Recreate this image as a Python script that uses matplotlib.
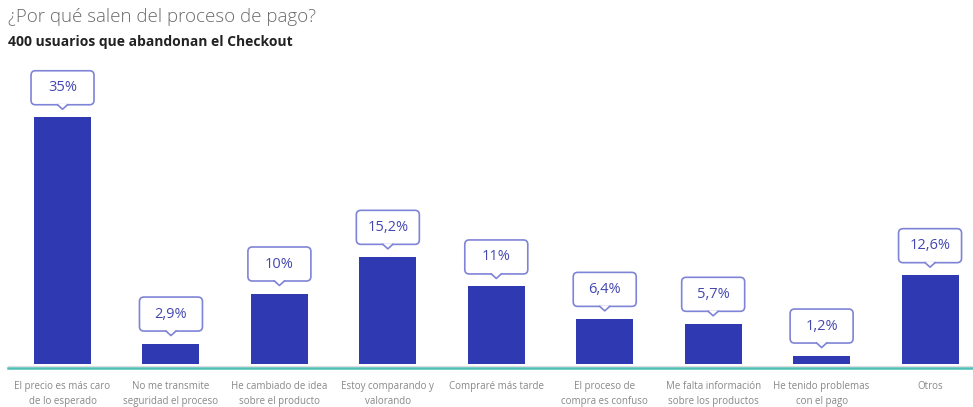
"""Bar chart: reasons for leaving the checkout."""
import matplotlib
matplotlib.use("Agg")
import matplotlib.pyplot as plt
import matplotlib.transforms as mtransforms
from matplotlib.patches import FancyBboxPatch, Polygon
from matplotlib.lines import Line2D

plt.rcParams['font.family'] = ['Open Sans', 'DejaVu Sans']

TITLE = "¿Por qué salen del proceso de pago?"
SUBTITLE = "400 usuarios que abandonan el Checkout"
CATEGORIES = [
    "El precio es más caro\nde lo esperado",
    "No me transmite\nseguridad el proceso",
    "He cambiado de idea\nsobre el producto",
    "Estoy comparando y\nvalorando",
    "Compraré más tarde",
    "El proceso de\ncompra es confuso",
    "Me falta información\nsobre los productos",
    "He tenido problemas\ncon el pago",
    "Otros",
]
VALUES = [35, 2.9, 10, 15.2, 11, 6.4, 5.7, 1.2, 12.6]
LABELS = ["35%", "2,9%", "10%", "15,2%", "11%", "6,4%", "5,7%", "1,2%", "12,6%"]

BAR_COLOR = "#2f3ab2"
BOX_EDGE = "#7f84d6"
BOX_TEXT = "#4347b0"
TEAL = "#4dbfb5"

W, H = 973, 407
fig = plt.figure(figsize=(W / 100, H / 100), dpi=100)
ax = fig.add_axes([8.3 / W, 43 / H, 964.7 / W, 300 / H])

x = list(range(len(VALUES)))
ax.bar(x, VALUES, width=0.525, color=BAR_COLOR, zorder=2)
ax.set_xlim(-0.5, 8.396)
ax.set_ylim(0, 300 / 7.05)

ax.axhline(-0.25, color="#dddddd", lw=0.8, clip_on=False, zorder=1)
ax.axhline(-0.55, color=TEAL, lw=1.8, clip_on=False, zorder=1)

for s in ax.spines.values():
    s.set_visible(False)
ax.set_yticks([])
ax.set_xticks(x)
ax.set_xticklabels(CATEGORIES, fontsize=7, color="#888888", linespacing=1.55)
ax.tick_params(axis='x', length=0, pad=12)

# callout boxes, sized in inches, anchored on each bar top
bw, bh, gap, ph, pw = 0.63, 0.34, 0.08, 0.045, 0.05
for xi, v, lab in zip(x, VALUES, LABELS):
    tr = fig.dpi_scale_trans + mtransforms.ScaledTranslation(xi, v, ax.transData)
    y0 = gap + ph
    box = FancyBboxPatch((-bw / 2, y0), bw, bh,
                         boxstyle="round,pad=0,rounding_size=0.045",
                         transform=tr, facecolor="white", edgecolor=BOX_EDGE,
                         lw=1.2, clip_on=False, zorder=3)
    fig.add_artist(box)
    tri = Polygon([(-pw, y0 + 0.01), (pw, y0 + 0.01), (0, gap)], closed=True,
                  transform=tr, facecolor="white", edgecolor="none",
                  clip_on=False, zorder=4)
    fig.add_artist(tri)
    fig.add_artist(Line2D([-pw, 0, pw], [y0, gap, y0], transform=tr,
                          color=BOX_EDGE, lw=1.2, zorder=5))
    fig.text(0, y0 + bh / 2, lab, transform=tr, ha='center', va='center',
             fontsize=10.5, color=BOX_TEXT, zorder=6)

fig.text(8 / W, 1 - 8 / H, TITLE, ha='left', va='top', fontsize=13.5,
         color="#6a6a6a", fontweight='light')
fig.text(8 / W, 1 - 35 / H, SUBTITLE, ha='left', va='top', fontsize=10,
         color="#222222", fontweight='bold')

fig.savefig("out.png", dpi=100)
